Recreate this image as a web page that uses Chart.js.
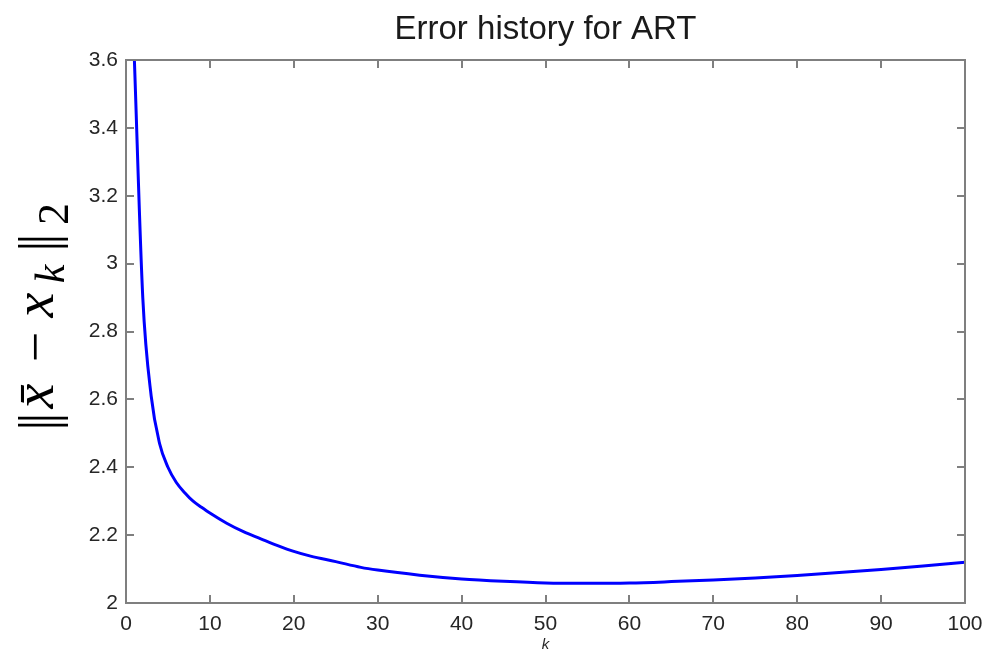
<!DOCTYPE html>
<html>
<head>
<meta charset="utf-8">
<title>Error history for ART</title>
<script src="https://cdn.jsdelivr.net/npm/chart.js@4.4.0/dist/chart.umd.min.js"></script>
<style>
  html, body { margin: 0; padding: 0; background: #fff; }
  #wrap { width: 985px; height: 655px; }
</style>
</head>
<body>
<div id="wrap"><canvas id="chart"></canvas></div>
<script>
// iteration index k and the error norm at that iteration
var iterations = [1, 2, 3, 4, 5, 6, 7, 8, 9, 10, 12, 14, 16, 18, 20, 22, 25, 28, 30,
                  35, 40, 45, 50, 55, 60, 65, 70, 75, 80, 85, 90, 95, 100];
var errors = [3.60, 2.90, 2.61, 2.47, 2.40, 2.355, 2.325, 2.300, 2.282, 2.265, 2.235,
              2.210, 2.190, 2.170, 2.152, 2.138, 2.122, 2.105, 2.097, 2.082, 2.071,
              2.064, 2.059, 2.058, 2.059, 2.063, 2.068, 2.074, 2.081, 2.090, 2.099,
              2.109, 2.120];

var xTicks = [0, 10, 20, 30, 40, 50, 60, 70, 80, 90, 100];
var yTicks = [2, 2.2, 2.4, 2.6, 2.8, 3, 3.2, 3.4, 3.6];
var yTickLabels = ['2', '2.2', '2.4', '2.6', '2.8', '3', '3.2', '3.4', '3.6'];

var points = iterations.map(function (k, i) { return { x: k, y: errors[i] }; });

var sans = '"Liberation Sans", Arial, Helvetica, sans-serif';
var serif = '"Liberation Serif", "Times New Roman", serif';

// box around the plot with inward ticks on all four sides
var framePlugin = {
  id: 'frame',
  afterDraw: function (chart) {
    var a = chart.chartArea, ctx = chart.ctx;
    var xs = chart.scales.x, ys = chart.scales.y;
    var len = 8;
    ctx.save();
    ctx.strokeStyle = '#7f7f7f';
    ctx.lineWidth = 2;
    ctx.strokeRect(a.left, a.top, a.right - a.left, a.bottom - a.top);
    ctx.beginPath();
    xs.ticks.forEach(function (t) {
      var px = Math.round(xs.getPixelForValue(t.value));
      ctx.moveTo(px, a.bottom); ctx.lineTo(px, a.bottom - len);
      ctx.moveTo(px, a.top); ctx.lineTo(px, a.top + len);
    });
    ys.ticks.forEach(function (t) {
      var py = Math.round(ys.getPixelForValue(t.value));
      ctx.moveTo(a.left, py); ctx.lineTo(a.left + len, py);
      ctx.moveTo(a.right, py); ctx.lineTo(a.right - len, py);
    });
    ctx.stroke();
    ctx.restore();
  }
};

// title centred over the plot box
var boxTitlePlugin = {
  id: 'boxTitle',
  afterDraw: function (chart) {
    var a = chart.chartArea, ctx = chart.ctx;
    ctx.save();
    ctx.font = '33px ' + sans;
    ctx.fillStyle = '#1a1a1a';
    ctx.textAlign = 'center';
    ctx.textBaseline = 'alphabetic';
    ctx.fillText('Error history for ART', (a.left + a.right) / 2, 39);
    ctx.restore();
  }
};

// rotated math label ||x̄ - x_k||_2 ; pos = centre along the page, base = baseline column
var normParts = [
  { t: '|', f: '54px ' + serif, pos: 425, base: 56 },
  { t: '|', f: '54px ' + serif, pos: 418, base: 56 },
  { t: 'x\u0304', f: 'italic 56px ' + serif, pos: 396, base: 53 },
  { t: '\u2212', f: '54px ' + serif, pos: 347, base: 53 },
  { t: 'x', f: 'italic 56px ' + serif, pos: 305, base: 53 },
  { t: 'k', f: 'italic 42px ' + serif, pos: 274, base: 64 },
  { t: '|', f: '54px ' + serif, pos: 246, base: 56 },
  { t: '|', f: '54px ' + serif, pos: 239, base: 56 },
  { t: '2', f: '44px ' + serif, pos: 214, base: 68 }
];
var normLabelPlugin = {
  id: 'normLabel',
  afterDraw: function (chart) {
    var ctx = chart.ctx;
    ctx.save();
    ctx.rotate(-Math.PI / 2);
    ctx.fillStyle = '#000';
    ctx.textAlign = 'center';
    ctx.textBaseline = 'alphabetic';
    normParts.forEach(function (p) {
      ctx.font = p.f;
      ctx.fillText(p.t, -p.pos, p.base);
    });
    ctx.restore();
  }
};

var tickFont = { family: sans, size: 21 };

new Chart(document.getElementById('chart'), {
  type: 'line',
  data: {
    datasets: [{
      data: points,
      borderColor: 'rgb(0, 0, 255)',
      borderWidth: 3,
      pointRadius: 0,
      cubicInterpolationMode: 'monotone',
      fill: false
    }]
  },
  options: {
    responsive: true,
    maintainAspectRatio: false,
    animation: false,
    layout: { padding: { left: 0, right: 20, top: 60, bottom: 0 } },
    plugins: {
      legend: { display: false },
      tooltip: { enabled: false },
      title: { display: false }
    },
    scales: {
      x: {
        type: 'linear',
        min: 0,
        max: 100,
        grid: { display: false },
        border: { display: false },
        afterBuildTicks: function (s) { s.ticks = xTicks.map(function (v) { return { value: v }; }); },
        afterFit: function (s) { s.height = 52; },
        ticks: { color: '#262626', font: tickFont, padding: 1, maxRotation: 0 },
        title: {
          display: true,
          text: 'k',
          color: '#262626',
          font: { family: sans, size: 15, style: 'italic' },
          padding: { top: 0, bottom: 1 }
        }
      },
      y: {
        min: 2,
        max: 3.6,
        grid: { display: false },
        border: { display: false },
        afterBuildTicks: function (s) { s.ticks = yTicks.map(function (v) { return { value: v }; }); },
        afterFit: function (s) { s.width = 126; },
        ticks: {
          color: '#262626',
          font: tickFont,
          padding: 0,
          callback: function (v, i) { return yTickLabels[i]; }
        }
      }
    }
  },
  plugins: [framePlugin, boxTitlePlugin, normLabelPlugin]
});
</script>
</body>
</html>
